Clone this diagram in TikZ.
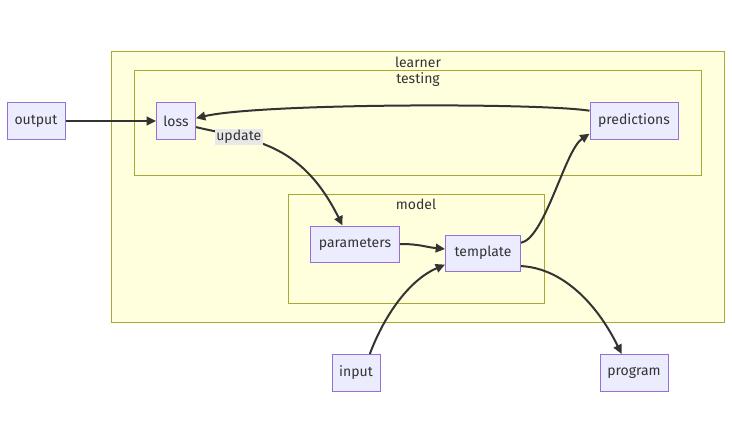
\documentclass[tikz,border=0pt]{standalone}
\usepackage{fontspec}
\setmainfont{Fira Sans}
\usetikzlibrary{arrows.meta}
\definecolor{nodefill}{HTML}{ECECFF}
\definecolor{nodeline}{HTML}{9370DB}
\definecolor{grpfill}{HTML}{FFFFDE}
\definecolor{grpline}{HTML}{AAAA33}
\definecolor{ink}{HTML}{333333}
\definecolor{lblfill}{HTML}{E8E8E8}
\begin{document}
\begin{tikzpicture}
  [
    x=0.75pt, y=-0.75pt,
    box/.style={draw=nodeline, fill=nodefill, line width=0.75pt, inner sep=0pt,
    minimum height=27.75pt, text=ink, font=\fontsize{10.5}{12}\selectfont},
    grp/.style={draw=grpline, fill=grpfill, line width=0.75pt},
    grplbl/.style={text=ink, font=\fontsize{10.5}{12}\selectfont, inner sep=0pt},
    ln/.style={draw=ink, line width=1.5pt, -{Triangle[length=7pt,width=6.5pt]}}
  ]
  \useasboundingbox (0,0) rectangle (732,443);

  % groups
  \draw [grp] (111,51) rectangle (724,322);
  \node (tLearner) at (418,62) [grplbl] {learner};
  \draw [grp] (134,70) rectangle (701,175);
  \node (tTesting) at (418,80) [grplbl] {testing};
  \draw [grp] (288,194) rectangle (544,303);
  \node (tModel) at (416,204) [grplbl] {model};

  % nodes
  \node (nOutput)      at ( 36,121) [box, minimum width=43.5pt]  {output};
  \node (nLoss)        at (176,121) [box, minimum width=29.25pt] {loss};
  \node (nPredictions) at (634,121) [box, minimum width=66pt]    {predictions};
  \node (nParameters)  at (355,244) [box, minimum width=66.75pt, minimum height=27pt] {parameters};
  \node (nTemplate)    at (483,253) [box, minimum width=56.25pt, minimum height=27pt] {template};
  \node (nInput)       at (356,373) [box, minimum width=36pt]    {input};
  \node (nProgram)     at (634,373) [box, minimum width=51pt]    {program};

  % edges
  \draw [ln] (nOutput.east) -- (nLoss.west);
  \draw [ln] (nPredictions.167) .. controls +(-50,-8) and +(64,-15) .. (nLoss.8);
  \draw [ln] (nLoss.-17) .. controls (250,140) and (300,140) .. (nParameters.124)
    node [pos=0.27, fill=lblfill, text=ink, inner sep=1pt,
          font=\fontsize{10.5}{12}\selectfont] (lUpdate) {update};
  \draw [ln] (nParameters.east) .. controls +(20,0) and +(-20,-2) .. (nTemplate.174);
  \draw [ln] (nInput.54) .. controls +(15,-40) and +(-35,15) .. (nTemplate.197);
  \draw [ln] (nTemplate.15) .. controls (545,238) and (565,150) .. (nPredictions.196);
  \draw [ln] (nTemplate.-19) .. controls (560,268) and (595,300) .. (nProgram.123);
\end{tikzpicture}
\end{document}
